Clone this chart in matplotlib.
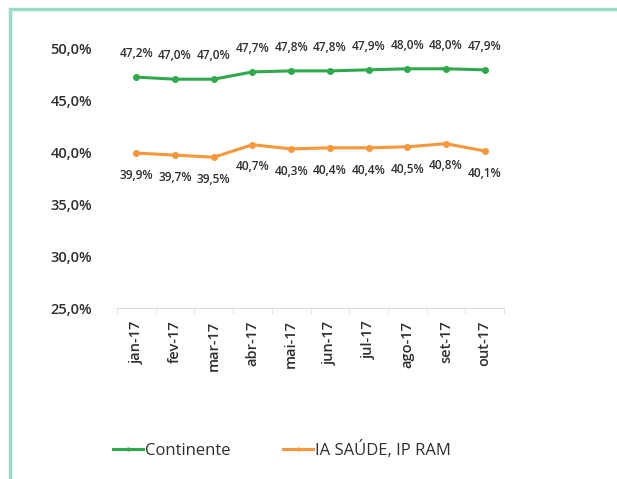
import numpy as np
import matplotlib.pyplot as plt
from matplotlib.patches import Rectangle
from matplotlib.ticker import FuncFormatter

plt.rcParams['font.family'] = ['Open Sans', 'DejaVu Sans']

months = ['jan-17', 'fev-17', 'mar-17', 'abr-17', 'mai-17',
          'jun-17', 'jul-17', 'ago-17', 'set-17', 'out-17']
continente = [47.2, 47.0, 47.0, 47.7, 47.8, 47.8, 47.9, 48.0, 48.0, 47.9]
ia_saude = [39.9, 39.7, 39.5, 40.7, 40.3, 40.4, 40.4, 40.5, 40.8, 40.1]

green = '#2eaa4c'
orange = '#f5973a'
txt = '#2f2f2f'

fig = plt.figure(figsize=(6.17, 4.79), dpi=100)
fig.patches.append(Rectangle((10/617, -0.1), 1.2, 1 - 9/479 + 0.1,
                             transform=fig.transFigure, fill=False,
                             edgecolor='#9adbc9', lw=2.5))
ax = fig.add_axes([117/617, 1 - 308/479, 387/617, 260/479])

x = np.arange(len(months))
ax.plot(x, continente, color=green, lw=2.2, marker='o', ms=4, label='Continente')
ax.plot(x, ia_saude, color=orange, lw=2.2, marker='o', ms=4, label='IA SAÚDE, IP RAM')

fmt = lambda v: f'{v:.1f}%'.replace('.', ',')
for i in x:
    ax.annotate(fmt(continente[i]), (i, continente[i]), xytext=(0, 17),
                textcoords='offset points', ha='center', va='center',
                fontsize=8.6, fontweight='semibold', color=txt)
    ax.annotate(fmt(ia_saude[i]), (i, ia_saude[i]), xytext=(0, -16),
                textcoords='offset points', ha='center', va='center',
                fontsize=8.6, fontweight='semibold', color=txt)

ax.set_xlim(-0.5, len(months) - 0.5)
ax.set_ylim(25, 50)
ax.set_yticks([25, 30, 35, 40, 45, 50])
ax.yaxis.set_major_formatter(FuncFormatter(lambda v, p: f'{v:.1f}%'.replace('.', ',')))
ax.set_xticks(x)
ax.set_xticklabels(months, rotation=90)
ax.tick_params(axis='y', length=0, labelsize=10.5, colors=txt, pad=18)
ax.tick_params(axis='x', which='major', length=0, labelsize=10.5, colors=txt, pad=9)
for lbl in ax.get_yticklabels() + ax.get_xticklabels():
    lbl.set_fontweight('semibold')
ax.set_xticks(np.arange(len(months) + 1) - 0.5, minor=True)
ax.tick_params(axis='x', which='minor', length=4, color='#dcdcdc')

for s in ['top', 'right', 'left']:
    ax.spines[s].set_visible(False)
ax.spines['bottom'].set_color('#dcdcdc')
ax.set_facecolor('none')

fig.legend(loc='center', bbox_to_anchor=(282/617, 1 - 450/479), ncol=2,
           frameon=False, fontsize=12, handlelength=1.8, handletextpad=0.1,
           columnspacing=3.2, labelcolor=txt, markerscale=0.5)

plt.savefig('out.png', dpi=100)
